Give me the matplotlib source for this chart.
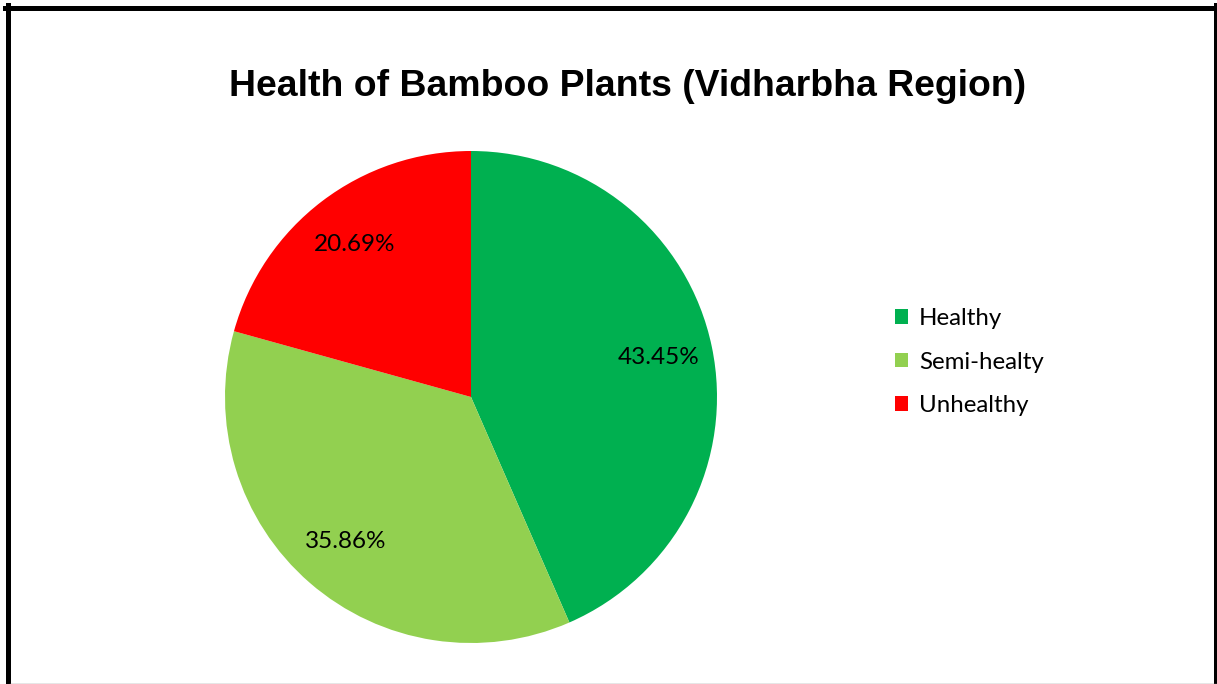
import matplotlib
matplotlib.use('Agg')
import matplotlib.pyplot as plt
from matplotlib.patches import Patch
from matplotlib.lines import Line2D

labels = ['Healthy', 'Semi-healty', 'Unhealthy']
values = [43.45, 35.86, 20.69]
colors = ['#00B050', '#92D050', '#FF0000']

W, H = 1217, 684
fig = plt.figure(figsize=(W / 100, H / 100), dpi=100)
ax = fig.add_axes([0, 0, 1, 1])

wedges, texts, autotexts = ax.pie(values, colors=colors, startangle=90, counterclock=False,
                                  center=(471, H - 397), radius=246, frame=True,
                                  autopct='%.2f%%', pctdistance=0.78,
                                  textprops=dict(fontsize=17.5, family='Lato', color='black'))
ax.set_xlim(0, W)
ax.set_ylim(0, H)
ax.set_aspect('equal')
ax.axis('off')

fig.text(628 / W, 1 - 87 / H, 'Health of Bamboo Plants (Vidharbha Region)', ha='center', va='center',
         fontsize=26.9, fontweight='bold', family='Liberation Sans')

handles = [Patch(facecolor=c, edgecolor='none') for c in colors]
fig.legend(handles, labels, loc='center left', bbox_to_anchor=(895 / W, 1 - 362 / H),
           frameon=False, prop=dict(family='Lato', size=17.3), handlelength=0.55, handleheight=0.55,
           handletextpad=0.45, labelspacing=0.93, borderaxespad=0, borderpad=0)

# outer border
fig.add_artist(Line2D([7.5 / W, 7.5 / W], [0, 1 - 5 / H], transform=fig.transFigure, color='black', lw=3.6))
fig.add_artist(Line2D([5 / W, 1 - 1.5 / W], [1 - 7.5 / H, 1 - 7.5 / H], transform=fig.transFigure, color='black', lw=3.6))
fig.add_artist(Line2D([1 - 1.5 / W, 1 - 1.5 / W], [0, 1 - 5 / H], transform=fig.transFigure, color='black', lw=3.6))
fig.add_artist(Line2D([10 / W, 1], [0.5 / H, 0.5 / H], transform=fig.transFigure, color='#808080', lw=1))

fig.savefig('out.png', dpi=100)
